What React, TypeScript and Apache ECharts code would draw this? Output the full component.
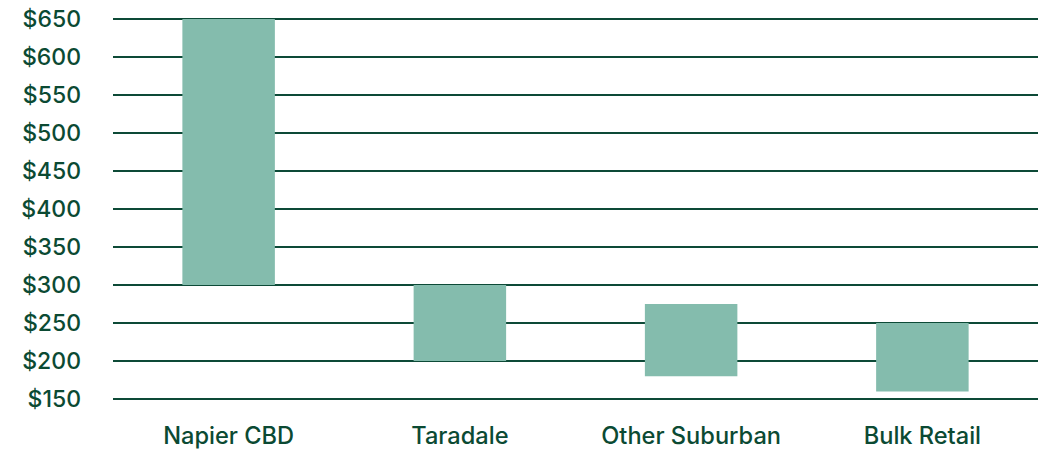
import React, { useEffect, useRef } from "react";
import * as echarts from "echarts";

const categories = ["Napier CBD", "Taradale", "Other Suburban", "Bulk Retail"];
const lowValues = [300, 200, 180, 160];
const highValues = [650, 300, 275, 250];

const textColor = "#0b4a33";
const lineColor = "#0d4a37";
const barColor = "#84bcad";

export default function App() {
  const ref = useRef<HTMLDivElement>(null);
  useEffect(() => {
    if (!ref.current) return;
    const chart = echarts.init(ref.current, undefined, { renderer: "svg" });
    const ranges = highValues.map((h, i) => h - lowValues[i]);
    chart.setOption({
      animation: false,
      grid: { left: 113, right: 2, top: 19, bottom: 50 },
      xAxis: {
        type: "category",
        data: categories,
        axisLine: { show: false },
        axisTick: { show: false },
        axisLabel: {
          interval: 0,
          hideOverlap: false,
          color: textColor,
          fontFamily: "Inter",
          fontWeight: 500,
          fontSize: 23.6,
          margin: 24,
        },
      },
      yAxis: {
        type: "value",
        min: 150,
        max: 650,
        interval: 50,
        axisLine: { show: false },
        axisTick: { show: false },
        splitLine: { lineStyle: { color: lineColor, width: 2 } },
        axisLabel: {
          color: textColor,
          fontFamily: "Inter",
          fontWeight: 500,
          fontSize: 23,
          margin: 32,
          formatter: (v: number) => "$" + v,
        },
      },
      series: [
        {
          type: "bar",
          stack: "r",
          data: lowValues,
          itemStyle: { color: "transparent" },
          barWidth: "40%",
          silent: true,
        },
        {
          type: "bar",
          stack: "r",
          data: ranges,
          itemStyle: { color: barColor },
          barWidth: "40%",
        },
      ],
    });
    return () => chart.dispose();
  }, []);
  return <div ref={ref} style={{ width: 1040, height: 449, position: "absolute", left: 0, top: 0 }} />;
}
